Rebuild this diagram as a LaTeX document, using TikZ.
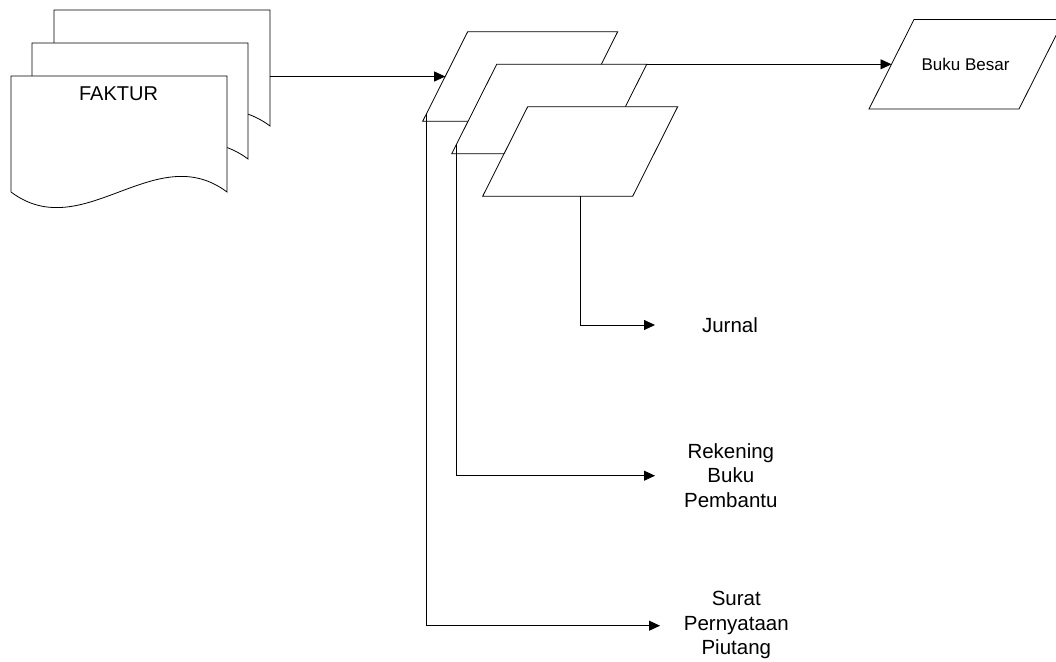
\documentclass[tikz,border=0pt]{standalone}
\usepackage{fontspec}
\setmainfont{Liberation Sans}
\usetikzlibrary{arrows.meta}
\tikzset{
  shp/.style={draw=black, fill=white, line join=miter},
  arr/.style={draw=black, -{Triangle[length=11pt,width=10pt]}},
  lbl/.style={font=\fontsize{20.5}{24.5}\selectfont, align=center, inner sep=0pt},
  docu/.pic={\path[shp] (0,0) -- (216,0) -- (216,116) .. controls (144,62) and (72,170) .. (0,116) -- cycle;},
  para/.pic={\path[shp] (45,0) -- (195,0) -- (150,89.5) -- (0,89.5) -- cycle;}
}
\begin{document}
\begin{tikzpicture}[x=1pt,y=-1pt, line width=0.8pt]
\useasboundingbox (0,0) rectangle (1056,661);
% documents
\pic (d1) at (54,10) {docu};
\pic (d2) at (32,43) {docu};
\pic (d3) at (11,76) {docu};
\node[font=\fontsize{20}{24}\selectfont, inner sep=0pt] (faktur) at (118.5,94) {FAKTUR};
% parallelograms
\pic (p1) at (422.7,31.7) {para};
\pic (p2) at (451.7,64.3) {para};
\pic (p3) at (482.7,106.7) {para};
\pic (bbp) at (869,19.5) {para};
\node[font=\fontsize{17}{20}\selectfont, inner sep=0pt] (bb) at (965.5,64.5) {Buku Besar};
% connector points
\coordinate (d1e) at (270,76.5);
\coordinate (p1w) at (445.2,76.5);
\coordinate (p2tr) at (646.7,64.3);
\coordinate (bbw) at (891.5,64.3);
\coordinate (p3b) at (580,196.2);
\coordinate (p2s) at (456.7,144);
\coordinate (p1s) at (426.7,113);
% labels
\node[lbl] (jurnal) at (730,325) {Jurnal};
\node[lbl] (rek) at (730.8,475.5) {Rekening\\Buku\\Pembantu};
\node[lbl] (surat) at (736.3,625) {Surat\\Pernyataan\\Piutang};
\coordinate (jt) at (655,325);
\coordinate (rt) at (655,475.7);
\coordinate (st) at (660,625.7);
% connectors
\draw[arr] (d1e) -- (p1w);
\draw[arr] (p2tr) -- (bbw);
\draw[arr] (p3b) |- (jt);
\draw[arr] (p2s) |- (rt);
\draw[arr] (p1s) |- (st);
\end{tikzpicture}
\end{document}
